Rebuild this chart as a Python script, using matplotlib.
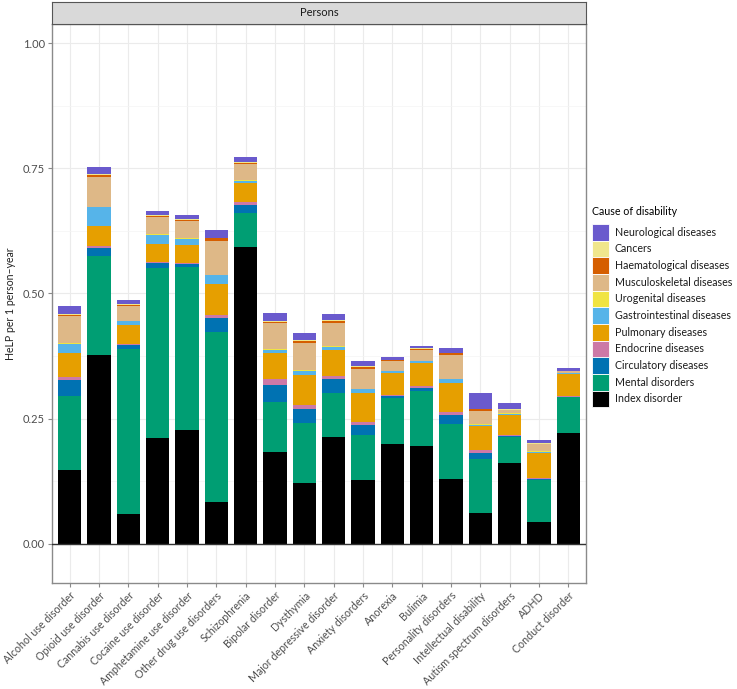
import matplotlib
matplotlib.use("Agg")
import matplotlib.pyplot as plt
from matplotlib.patches import Patch
import numpy as np

plt.rcParams['font.family'] = ['Lato', 'DejaVu Sans']

categories = ["Alcohol use disorder", "Opioid use disorder", "Cannabis use disorder",
              "Cocaine use disorder", "Amphetamine use disorder", "Other drug use disorders",
              "Schizophrenia", "Bipolar disorder", "Dysthymia", "Major depressive disorder",
              "Anxiety disorders", "Anorexia", "Bulimia", "Personality disorders",
              "Intellectual disability", "Autism spectrum disorders", "ADHD", "Conduct disorder"]

# stacked from bottom to top
index_disorder = [0.148, 0.378, 0.060, 0.212, 0.228, 0.083, 0.593, 0.183, 0.121, 0.213, 0.128, 0.200, 0.196, 0.130, 0.061, 0.161, 0.043, 0.221]
mental         = [0.147, 0.197, 0.329, 0.339, 0.324, 0.341, 0.067, 0.101, 0.121, 0.089, 0.089, 0.092, 0.109, 0.110, 0.109, 0.053, 0.084, 0.072]
circulatory    = [0.032, 0.016, 0.008, 0.009, 0.007, 0.028, 0.017, 0.034, 0.027, 0.028, 0.020, 0.004, 0.006, 0.017, 0.012, 0.002, 0.003, 0.001]
endocrine      = [0.006, 0.003, 0.002, 0.002, 0.002, 0.006, 0.006, 0.011, 0.008, 0.006, 0.007, 0.002, 0.004, 0.006, 0.005, 0.001, 0.001, 0.001]
pulmonary      = [0.049, 0.041, 0.038, 0.037, 0.036, 0.061, 0.038, 0.053, 0.061, 0.051, 0.058, 0.044, 0.046, 0.058, 0.049, 0.041, 0.051, 0.045]
gastro         = [0.017, 0.037, 0.008, 0.018, 0.012, 0.017, 0.004, 0.005, 0.008, 0.006, 0.007, 0.003, 0.004, 0.008, 0.002, 0.002, 0.002, 0.001]
urogenital     = [0.002, 0.001, 0.001, 0.001, 0.001, 0.001, 0.001, 0.002, 0.002, 0.002, 0.001, 0.001, 0.001, 0.001, 0.002, 0.001, 0.001, 0.000]
musculo        = [0.055, 0.060, 0.030, 0.034, 0.035, 0.068, 0.032, 0.052, 0.054, 0.047, 0.040, 0.019, 0.021, 0.047, 0.026, 0.006, 0.014, 0.004]
haemato        = [0.002, 0.003, 0.002, 0.003, 0.002, 0.005, 0.003, 0.003, 0.004, 0.004, 0.004, 0.002, 0.003, 0.004, 0.003, 0.001, 0.001, 0.001]
cancers        = [0.002, 0.002, 0.001, 0.001, 0.001, 0.001, 0.001, 0.002, 0.002, 0.002, 0.001, 0.001, 0.001, 0.001, 0.001, 0.001, 0.001, 0.000]
neuro          = [0.015, 0.015, 0.007, 0.009, 0.009, 0.016, 0.010, 0.016, 0.013, 0.011, 0.010, 0.006, 0.005, 0.009, 0.032, 0.012, 0.007, 0.006]

series_names = ["Index disorder", "Mental disorders", "Circulatory diseases", "Endocrine diseases",
                "Pulmonary diseases", "Gastrointestinal diseases", "Urogenital diseases",
                "Musculoskeletal diseases", "Haematological diseases", "Cancers", "Neurological diseases"]
series_values = [index_disorder, mental, circulatory, endocrine, pulmonary, gastro,
                 urogenital, musculo, haemato, cancers, neuro]
colors = ["#000000", "#009E73", "#0072B2", "#CC79A7", "#E69F00", "#56B4E9",
          "#F0E442", "#DEB887", "#D55E00", "#F0E68C", "#6A5ACD"]

W, H = 737, 689
fig = plt.figure(figsize=(W/100, H/100), dpi=100)
L, R, T, B = 52, 586, 24, 583
ax = fig.add_axes([L/W, 1-B/H, (R-L)/W, (B-T)/H])

x = np.arange(len(categories))
bottom = np.zeros(len(categories))
for name, vals, c in zip(series_names, series_values, colors):
    v = np.array(vals)
    ax.bar(x, v, bottom=bottom, width=0.8, color=c, edgecolor='none', zorder=3)
    bottom += v

ax.set_xlim(-0.6, len(categories) - 0.4)
ax.set_ylim(-0.078, 1.038)
ax.set_yticks([0, 0.25, 0.5, 0.75, 1.0])
ax.set_yticklabels(["0.00", "0.25", "0.50", "0.75", "1.00"])
ax.set_yticks([0.125, 0.375, 0.625, 0.875], minor=True)
ax.set_xticks(x)
ax.set_xticklabels(categories, rotation=45, ha='right', rotation_mode='anchor')
ax.grid(True, which='major', color='#EBEBEB', lw=0.8, zorder=0)
ax.grid(True, which='minor', axis='y', color='#F4F4F4', lw=0.5, zorder=0)
ax.set_axisbelow(True)
ax.axhline(0, color='#333333', lw=1.0, zorder=4)
for s in ax.spines.values():
    s.set_color('#8a8a8a')
    s.set_linewidth(1.0)
ax.tick_params(axis='both', which='major', length=3, color='#8a8a8a',
               labelcolor='#4D4D4D', pad=2)
ax.tick_params(axis='x', labelsize=7.7)
ax.tick_params(axis='y', labelsize=8)
ax.tick_params(axis='y', which='minor', length=0)
ax.set_ylabel("HeLP per 1 person\u2013year", fontsize=7.6, color='#222222', labelpad=5)

# facet strip
strip = fig.add_axes([L/W, 1-T/H, (R-L)/W, 22/H])
strip.set_facecolor('#D9D9D9')
strip.set_xticks([]); strip.set_yticks([])
for s in strip.spines.values():
    s.set_color('#555555'); s.set_linewidth(0.8)
strip.text(0.5, 0.5, "Persons", ha='center', va='center', fontsize=8, color='#1A1A1A',
           transform=strip.transAxes)

# legend
fs = 7.7
hh = (12.0 / fs - 0.245) / 0.65
handles = [Patch(facecolor=c, edgecolor='white', lw=0.6, label=n)
           for n, c in zip(series_names[::-1], colors[::-1])]
leg = fig.legend(handles=handles, loc='upper left', bbox_to_anchor=(590/W, 1-204/H),
                 frameon=False, fontsize=fs, title="Cause of disability", title_fontsize=fs,
                 handlelength=12.3 / fs, handleheight=hh, labelspacing=0.0, handletextpad=0.5,
                 borderaxespad=0, borderpad=0.2)
leg._legend_box.align = "left"
leg._legend_box.sep = 5
for t in leg.get_texts():
    t.set_color('#1A1A1A')

fig.savefig("out.png", dpi=100)
